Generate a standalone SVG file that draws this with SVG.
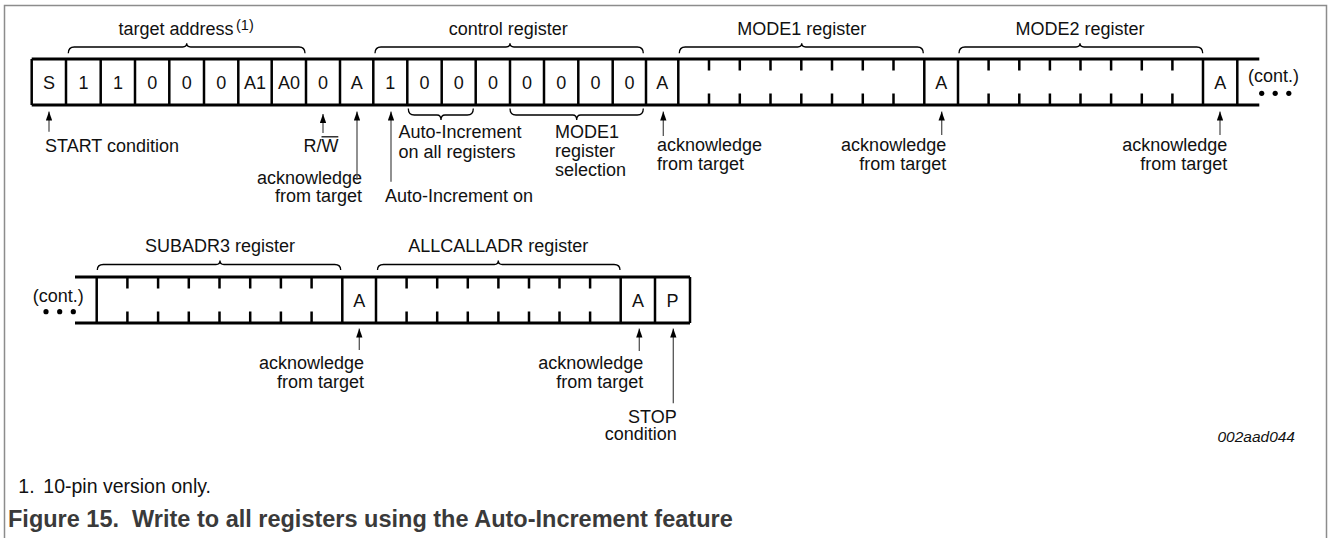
<svg xmlns="http://www.w3.org/2000/svg" width="1328" height="538" viewBox="0 0 1328 538">
<style>
text{font-family:"Liberation Sans",Arial,sans-serif;font-size:18px;fill:#111}
.c{text-anchor:middle}
.e{text-anchor:end}
.hl{stroke:#000;stroke-width:3;fill:none}
.vl{stroke:#000;stroke-width:2.5;fill:none}
.tk{stroke:#000;stroke-width:2.5;fill:none}
.br{stroke:#000;stroke-width:1.3;fill:none}
.ar{stroke:#555;stroke-width:1.3;fill:none;marker-end:url(#ah)}
.dot{fill:#000}
</style>
<defs>
<marker id="ah" viewBox="0 0 10 7" refX="10" refY="3.5" markerWidth="9" markerHeight="6.5" markerUnits="userSpaceOnUse" orient="auto">
<path d="M0,0 L10,3.5 L0,7 z" fill="#000"/>
</marker>
</defs>
<rect width="1328" height="538" fill="#fff"/>
<path d="M4.5,538 V5.5 H1326.5 V538" fill="none" stroke="#8c8c8c" stroke-width="1.5"/>

<!-- Row 1 frame -->
<g id="row1-frame">
<path class="hl" d="M31.7,59 H1259.3 M31.7,105 H1259.3"/>
<path class="vl" d="M31.7,59V105 M66,59V105 M100.7,59V105 M135,59V105 M169.3,59V105 M204,59V105 M238.3,59V105 M271.7,59V105 M306,59V105 M340,59V105 M373.3,59V105 M407.3,59V105 M441.7,59V105 M475.7,59V105 M510,59V105 M544,59V105 M578.3,59V105 M612.7,59V105 M646,59V105 M678.3,59V105 M924.3,59V105 M958,59V105 M1203,59V105 M1237.3,59V105"/>
</g>
<g id="row1-cells">
<text class="c" x="48.9" y="89">S</text>
<text class="c" x="83.4" y="89">1</text>
<text class="c" x="117.9" y="89">1</text>
<text class="c" x="152.2" y="89">0</text>
<text class="c" x="186.7" y="89">0</text>
<text class="c" x="221.2" y="89">0</text>
<text class="c" x="255" y="89">A1</text>
<text class="c" x="288.9" y="89">A0</text>
<text class="c" x="323" y="89">0</text>
<text class="c" x="356.7" y="89">A</text>
<text class="c" x="390.3" y="89">1</text>
<text class="c" x="424.5" y="89">0</text>
<text class="c" x="458.7" y="89">0</text>
<text class="c" x="492.9" y="89">0</text>
<text class="c" x="527" y="89">0</text>
<text class="c" x="561.2" y="89">0</text>
<text class="c" x="595.5" y="89">0</text>
<text class="c" x="629.4" y="89">0</text>
<text class="c" x="662.2" y="89">A</text>
<text class="c" x="941.2" y="89">A</text>
<text class="c" x="1220.2" y="89">A</text>
</g>
<g id="mode1-reg">
<path class="tk" d="M709,59V70.5 M739.8,59V70.5 M770.5,59V70.5 M801.3,59V70.5 M832,59V70.5 M862.8,59V70.5 M893.5,59V70.5 M709,93.5V105 M739.8,93.5V105 M770.5,93.5V105 M801.3,93.5V105 M832,93.5V105 M862.8,93.5V105 M893.5,93.5V105"/>
</g>
<g id="mode2-reg">
<path class="tk" d="M988.6,59V70.5 M1019.3,59V70.5 M1049.9,59V70.5 M1080.5,59V70.5 M1111.1,59V70.5 M1141.8,59V70.5 M1172.4,59V70.5 M988.6,93.5V105 M1019.3,93.5V105 M1049.9,93.5V105 M1080.5,93.5V105 M1111.1,93.5V105 M1141.8,93.5V105 M1172.4,93.5V105"/>
</g>
<g id="cont1">
<text x="1248" y="81.7">(cont.)</text>
<circle class="dot" cx="1261.7" cy="93.3" r="2.6"/>
<circle class="dot" cx="1275.2" cy="93.3" r="2.6"/>
<circle class="dot" cx="1288.8" cy="93.3" r="2.6"/>
</g>

<!-- Row 1 braces and labels -->
<g id="brace-target">
<path class="br" d="M68.3,53.3 Q68.3,47 74.3,47 H182.7 Q186.7,47 186.7,43.3 Q186.7,47 190.7,47 H299 Q305,47 305,53.3"/>
<text class="c" x="176" y="35">target address</text>
<text x="236" y="29.5" style="font-size:14.5px">(1)</text>
</g>
<g id="brace-control">
<path class="br" d="M375,53.3 Q375,47 381,47 H506 Q510,47 510,43.3 Q510,47 514,47 H637.3 Q643.3,47 643.3,53.3"/>
<text class="c" x="508.3" y="35">control register</text>
</g>
<g id="brace-mode1">
<path class="br" d="M679.3,53.3 Q679.3,47 685.3,47 H797.7 Q801.7,47 801.7,43.3 Q801.7,47 805.7,47 H917.3 Q923.3,47 923.3,53.3"/>
<text class="c" x="801.7" y="35">MODE1 register</text>
</g>
<g id="brace-mode2">
<path class="br" d="M959,53.3 Q959,47 965,47 H1076 Q1080,47 1080,43.3 Q1080,47 1084,47 H1196.7 Q1202.7,47 1202.7,53.3"/>
<text class="c" x="1080" y="35">MODE2 register</text>
</g>
<g id="brace-autoinc">
<path class="br" d="M408.3,108.5 Q408.3,115 414.3,115 H437 Q441,115 441,120 Q441,115 445,115 H467.3 Q473.3,115 473.3,108.5"/>
<text x="398.5" y="138.3">Auto-Increment</text>
<text x="398.5" y="158.3">on all registers</text>
</g>
<g id="brace-mode1sel">
<path class="br" d="M510,108.5 Q510,115 516,115 H572.7 Q576.7,115 576.7,120 Q576.7,115 580.7,115 H637.3 Q643.3,115 643.3,108.5"/>
<text x="555" y="138.3">MODE1</text>
<text x="555" y="157.3">register</text>
<text x="555" y="176">selection</text>
</g>

<!-- Row 1 annotations -->
<g id="lbl-start">
<text x="45" y="151.7">START condition</text>
</g>
<g id="lbl-rw">
<text class="e" x="338.5" y="151.7">R/W</text>
<line x1="321.5" y1="136.8" x2="338.3" y2="136.8" stroke="#111" stroke-width="1.3"/>
</g>
<g id="lbl-ack1">
<text class="e" x="362" y="183.5">acknowledge</text>
<text class="e" x="362" y="201.5">from target</text>
</g>
<g id="lbl-aion">
<text x="385" y="201.5">Auto-Increment on</text>
</g>
<g id="lbl-ack2">
<text x="657" y="150.7">acknowledge</text>
<text x="657" y="169.5">from target</text>
</g>
<g id="lbl-ack3">
<text class="e" x="946.2" y="150.7">acknowledge</text>
<text class="e" x="946.2" y="169.5">from target</text>
</g>
<g id="lbl-ack4">
<text class="e" x="1227.3" y="150.7">acknowledge</text>
<text class="e" x="1227.3" y="169.5">from target</text>
</g>

<!-- Row 2 -->
<g id="row2-frame">
<path class="hl" d="M75,277 H690 M75,323 H690"/>
<path class="vl" d="M96.7,277V323 M342.3,277V323 M376,277V323 M620.7,277V323 M655,277V323 M690,277V323"/>
<text class="c" x="359.2" y="306.5">A</text>
<text class="c" x="637.9" y="306.5">A</text>
<text class="c" x="672.5" y="306.5">P</text>
</g>
<g id="subadr3-reg">
<path class="tk" d="M127.4,277V288.5 M158.1,277V288.5 M188.8,277V288.5 M219.5,277V288.5 M250.2,277V288.5 M280.9,277V288.5 M311.6,277V288.5 M127.4,311.5V323 M158.1,311.5V323 M188.8,311.5V323 M219.5,311.5V323 M250.2,311.5V323 M280.9,311.5V323 M311.6,311.5V323"/>
<path class="br" d="M97.3,270 Q97.3,264.5 103.3,264.5 H216 Q220,264.5 220,260.5 Q220,264.5 224,264.5 H334.7 Q340.7,264.5 340.7,270"/>
<text class="c" x="220" y="251.7">SUBADR3 register</text>
</g>
<g id="allcalladr-reg">
<path class="tk" d="M406.6,277V288.5 M437.2,277V288.5 M467.8,277V288.5 M498.4,277V288.5 M529,277V288.5 M559.5,277V288.5 M590.1,277V288.5 M406.6,311.5V323 M437.2,311.5V323 M467.8,311.5V323 M498.4,311.5V323 M529,311.5V323 M559.5,311.5V323 M590.1,311.5V323"/>
<path class="br" d="M377.5,270 Q377.5,264.5 383.5,264.5 H494.3 Q498.3,264.5 498.3,260.5 Q498.3,264.5 502.3,264.5 H614 Q620,264.5 620,270"/>
<text class="c" x="498.3" y="251.7">ALLCALLADR register</text>
</g>
<g id="cont2">
<text x="32.7" y="301.7">(cont.)</text>
<circle class="dot" cx="46" cy="311.7" r="2.6"/>
<circle class="dot" cx="59.7" cy="311.7" r="2.6"/>
<circle class="dot" cx="73.3" cy="311.7" r="2.6"/>
</g>
<g id="lbl-ack5">
<text class="e" x="364" y="369">acknowledge</text>
<text class="e" x="364" y="388">from target</text>
</g>
<g id="lbl-ack6">
<text class="e" x="643.3" y="369">acknowledge</text>
<text class="e" x="643.3" y="388">from target</text>
</g>
<g id="lbl-stop">
<text class="e" x="676.7" y="422.5">STOP</text>
<text class="e" x="676.7" y="440">condition</text>
</g>

<!-- connectors -->
<g id="connectors">
<line class="ar" x1="49" y1="131.7" x2="49" y2="111.5"/>
<line class="ar" x1="323" y1="133" x2="323" y2="114"/>
<line class="ar" x1="357" y1="180" x2="357" y2="111.5"/>
<line class="ar" x1="391" y1="181.7" x2="391" y2="111.5"/>
<line class="ar" x1="663.3" y1="136" x2="663.3" y2="111.5"/>
<line class="ar" x1="941.7" y1="135" x2="941.7" y2="111.5"/>
<line class="ar" x1="1220" y1="135" x2="1220" y2="111.5"/>
<line class="ar" x1="359.3" y1="350" x2="359.3" y2="328.5"/>
<line class="ar" x1="639.3" y1="351" x2="639.3" y2="328.5"/>
<line class="ar" x1="673.3" y1="403.3" x2="673.3" y2="328.5"/>
</g>

<text x="1295" y="441.7" style="font-size:15.5px;font-style:italic;text-anchor:end">002aad044</text>

<g id="caption">
<text x="18.3" y="493" style="font-size:19.5px">1.</text>
<text x="43.3" y="493" style="font-size:19.5px">10-pin version only.</text>
<text x="8" y="527" xml:space="preserve" style="font-size:23.5px;font-weight:bold;fill:#3a3a3a">Figure 15.  Write to all registers using the Auto-Increment feature</text>
</g>
</svg>
